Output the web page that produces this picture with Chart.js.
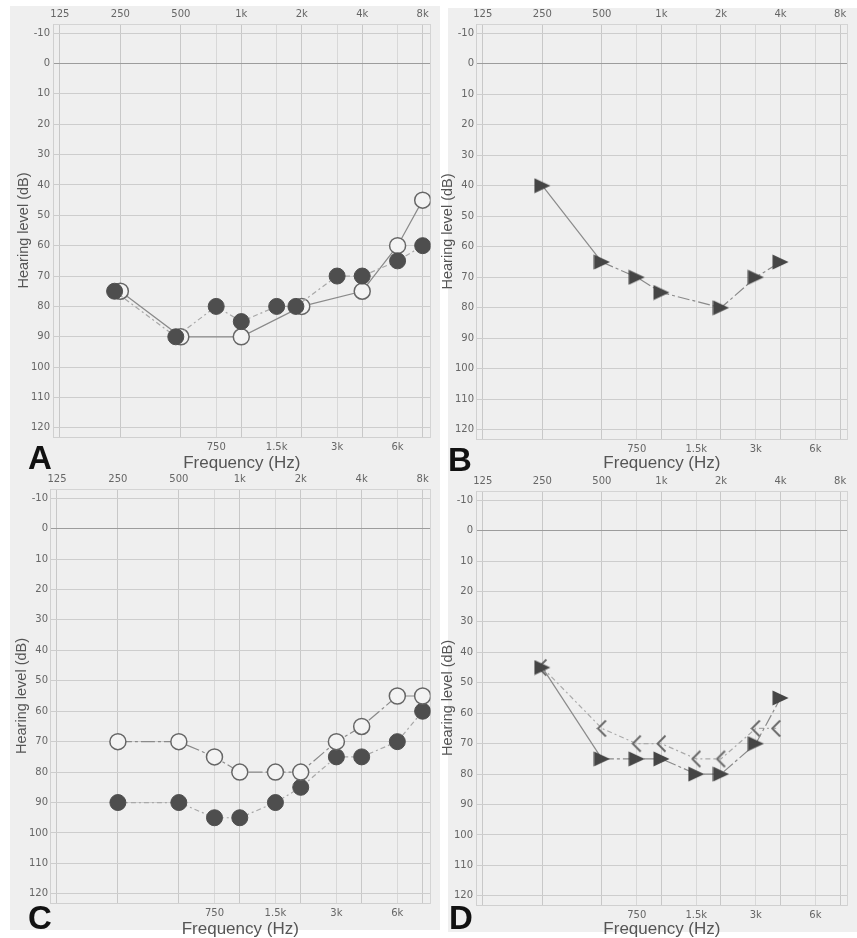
<!DOCTYPE html>
<html>
<head>
<meta charset="utf-8">
<title>Audiograms</title>
<script src="https://cdn.jsdelivr.net/npm/chart.js@4.4.0/dist/chart.umd.min.js"></script>
<style>
  body { margin: 0; background: #fff; width: 857px; height: 938px; position: relative; overflow: hidden; }
  .panel { position: absolute; background: #efefef; }
  canvas { position: absolute; }
  .tag { position: absolute; font: bold 33px "Liberation Sans", Arial, sans-serif; color: #111; line-height: 1; }
</style>
</head>
<body>
<div class="panel" style="left:10px;top:6px;width:430px;height:466px"></div>
<div class="panel" style="left:448px;top:8px;width:409px;height:464px"></div>
<div class="panel" style="left:10px;top:472px;width:430px;height:458px"></div>
<div class="panel" style="left:448px;top:472px;width:409px;height:460px"></div>

<canvas id="chartA" width="440" height="472" style="left:0;top:0"></canvas>
<canvas id="chartB" width="417" height="472" style="left:440px;top:0"></canvas>
<canvas id="chartC" width="440" height="468" style="left:0;top:470px"></canvas>
<canvas id="chartD" width="417" height="468" style="left:440px;top:470px"></canvas>

<div class="tag" style="left:28px;top:441px">A</div>
<div class="tag" style="left:448px;top:443px">B</div>
<div class="tag" style="left:28px;top:901px">C</div>
<div class="tag" style="left:449px;top:901px">D</div>

<script>
// sumbu frekuensi & level
const octaveFreqs = [125, 250, 500, 1000, 2000, 4000, 8000];
const octaveLabels = ['125', '250', '500', '1k', '2k', '4k', '8k'];
const halfFreqs = [750, 1500, 3000, 6000];
const halfLabels = ['750', '1.5k', '3k', '6k'];
const dbTicks = [-10, 0, 10, 20, 30, 40, 50, 60, 70, 80, 90, 100, 110, 120];

// Panel A
const freqA_open = [250, 500, 1000, 2000, 4000, 6000, 8000];
const dbA_open = [75, 90, 90, 80, 75, 60, 45];
const freqA_fill = [234, 472, 750, 1000, 1500, 1870, 3000, 4000, 6000, 8000];
const dbA_fill = [75, 90, 80, 85, 80, 80, 70, 70, 65, 60];

// Panel B
const freqB = [250, 500, 750, 1000, 2000, 3000, 4000];
const dbB = [40, 65, 70, 75, 80, 70, 65];

// Panel C
const freqC = [250, 500, 750, 1000, 1500, 2000, 3000, 4000, 6000, 8000];
const dbC_open = [70, 70, 75, 80, 80, 80, 70, 65, 55, 55];
const dbC_fill = [90, 90, 95, 95, 90, 85, 75, 75, 70, 60];

// Panel D
const freqD_tri = [250, 500, 750, 1000, 1500, 2000, 3000, 4000];
const dbD_tri = [45, 75, 75, 75, 80, 80, 70, 55];
const freqD_bone = [250, 500, 750, 1000, 1500, 2000, 3000, 3800];
const dbD_bone = [45, 65, 70, 70, 75, 75, 65, 65];

const allFreqs = [...octaveFreqs, ...halfFreqs].sort((a, b) => a - b);
const toPoints = (xs, ys) => xs.map((x, i) => ({ x: x, y: ys[i] }));

// Simbol segitiga (menghadap kanan)
function triangleMark(w, h, color) {
    const c = document.createElement('canvas');
    c.width = w; c.height = h;
    const g = c.getContext('2d');
    g.fillStyle = color;
    g.beginPath();
    g.moveTo(0.5, 0.5);
    g.lineTo(w - 0.5, h / 2);
    g.lineTo(0.5, h - 0.5);
    g.closePath();
    g.fill();
    return c;
}

// Simbol "<"
function chevronMark(w, h, color) {
    const c = document.createElement('canvas');
    c.width = w; c.height = h;
    const g = c.getContext('2d');
    g.strokeStyle = color;
    g.lineWidth = 1.8;
    g.beginPath();
    g.moveTo(w - 1.5, 1.5);
    g.lineTo(1.5, h / 2);
    g.lineTo(w - 1.5, h - 1.5);
    g.stroke();
    return c;
}

const triMark = triangleMark(17, 16, '#454545');
const chevMark = chevronMark(11, 19, '#666');

const tickFont = { family: '"DejaVu Sans", Tahoma, sans-serif', size: 10 };

function circleSet(points, filled, line, dash) {
    return {
        data: points,
        borderColor: line,
        borderWidth: 1.2,
        borderDash: dash,
        tension: 0,
        pointStyle: 'circle',
        pointRadius: 8,
        pointBorderWidth: filled ? 1 : 1.5,
        pointBackgroundColor: filled ? '#4e4e4e' : '#f3f3f3',
        pointBorderColor: filled ? '#4e4e4e' : '#666',
        xAxisID: 'x',
        yAxisID: 'y'
    };
}

function markSet(points, mark, line, dash, firstSolid) {
    return {
        data: points,
        borderColor: line,
        borderWidth: 1.2,
        borderDash: dash,
        segment: firstSolid ? { borderDash: c => c.p0DataIndex === 0 ? [] : dash } : undefined,
        tension: 0,
        pointStyle: mark,
        pointRadius: 8,
        xAxisID: 'x',
        yAxisID: 'y'
    };
}

// box: posisi area plot di dalam canvas
function audiogram(id, box, datasets) {
    const el = document.getElementById(id);
    const W = el.width, H = el.height;
    return new Chart(el, {
        type: 'line',
        data: { datasets: datasets },
        options: {
            responsive: false,
            animation: false,
            events: [],
            layout: { padding: { left: 0, top: 0, right: W - box.right, bottom: 0 } },
            plugins: { legend: { display: false }, tooltip: { enabled: false } },
            scales: {
                x: {
                    type: 'logarithmic',
                    position: 'bottom',
                    min: 115.5,
                    max: 8750,
                    afterBuildTicks: s => { s.ticks = allFreqs.map(v => ({ value: v })); },
                    afterFit: s => { s.height = H - box.bottom; },
                    ticks: {
                        autoSkip: false,
                        maxRotation: 0,
                        padding: 4,
                        color: '#666',
                        font: tickFont,
                        callback: v => {
                            const i = halfFreqs.indexOf(v);
                            return i >= 0 ? halfLabels[i] : '';
                        }
                    },
                    grid: {
                        drawTicks: false,
                        lineWidth: 1,
                        color: c => halfFreqs.includes(c.tick.value) ? '#d8d8d8' : '#c8c8c8'
                    },
                    border: { color: '#d0d0d0' },
                    title: {
                        display: true,
                        text: 'Frequency (Hz)',
                        color: '#555',
                        font: { family: '"Liberation Sans", Arial, sans-serif', size: 17, lineHeight: 1 },
                        padding: { top: 0, bottom: box.xTitlePad }
                    }
                },
                xTop: {
                    type: 'logarithmic',
                    position: 'top',
                    min: 115.5,
                    max: 8750,
                    afterBuildTicks: s => { s.ticks = octaveFreqs.map(v => ({ value: v })); },
                    afterFit: s => { s.height = box.top; },
                    ticks: {
                        autoSkip: false,
                        maxRotation: 0,
                        padding: box.topPad,
                        color: '#666',
                        font: tickFont,
                        callback: v => octaveLabels[octaveFreqs.indexOf(v)]
                    },
                    grid: { display: false, drawTicks: false },
                    border: { color: '#d4d4d4' }
                },
                y: {
                    type: 'linear',
                    position: 'left',
                    reverse: true,
                    min: -13,
                    max: 123,
                    afterBuildTicks: s => { s.ticks = dbTicks.map(v => ({ value: v })); },
                    afterFit: s => { s.width = box.left; },
                    ticks: {
                        padding: box.yPad,
                        color: '#666',
                        font: { family: '"DejaVu Sans", Tahoma, sans-serif', size: 10 },
                        callback: v => String(v)
                    },
                    grid: {
                        drawTicks: false,
                        color: c => c.tick.value === 0 ? '#9c9c9c' : '#cdcdcd'
                    },
                    border: { color: '#d0d0d0' },
                    title: {
                        display: true,
                        text: 'Hearing level (dB)',
                        color: '#555',
                        font: { family: '"Liberation Sans", Arial, sans-serif', size: 14.5, lineHeight: 1 },
                        padding: { top: box.yTitlePad, bottom: 0 }
                    }
                },
                yRight: {
                    type: 'linear',
                    position: 'right',
                    reverse: true,
                    min: -13,
                    max: 123,
                    afterFit: s => { s.width = 0; },
                    ticks: { display: false },
                    grid: { display: false, drawTicks: false },
                    border: { color: '#d4d4d4' }
                }
            }
        }
    });
}

window.onload = function() {
    audiogram('chartA',
        { left: 53, top: 24, right: 434, bottom: 437, yPad: 3, topPad: 4, yTitlePad: 16.75, xTitlePad: 0.5 },
        [
            circleSet(toPoints(freqA_fill, dbA_fill), true, '#a8a8a8', [5, 3, 2, 3]),
            circleSet(toPoints(freqA_open, dbA_open), false, '#8a8a8a', [])
        ]);

    audiogram('chartB',
        { left: 36, top: 24, right: 415, bottom: 439, yPad: 2, topPad: 3.5, yTitlePad: 0.75, xTitlePad: 0.5 },
        [
            markSet(toPoints(freqB, dbB), triMark, '#8a8a8a', [12, 3, 3, 3], true)
        ]);

    audiogram('chartC',
        { left: 50, top: 19, right: 431, bottom: 433, yPad: 2, topPad: 3.5, yTitlePad: 14.75, xTitlePad: 0 },
        [
            circleSet(toPoints(freqC, dbC_open), false, '#8a8a8a', [14, 3, 3, 3]),
            circleSet(toPoints(freqC, dbC_fill), true, '#a8a8a8', [5, 3, 2, 3])
        ]);

    audiogram('chartD',
        { left: 36, top: 21, right: 414, bottom: 435, yPad: 3, topPad: 3.5, yTitlePad: 0.75, xTitlePad: 0 },
        [
            markSet(toPoints(freqD_tri, dbD_tri), triMark, '#8a8a8a', [12, 3, 3, 3], true),
            markSet(toPoints(freqD_bone, dbD_bone), chevMark, '#ababab', [5, 3, 2, 3], false)
        ]);
};
</script>
</body>
</html>
